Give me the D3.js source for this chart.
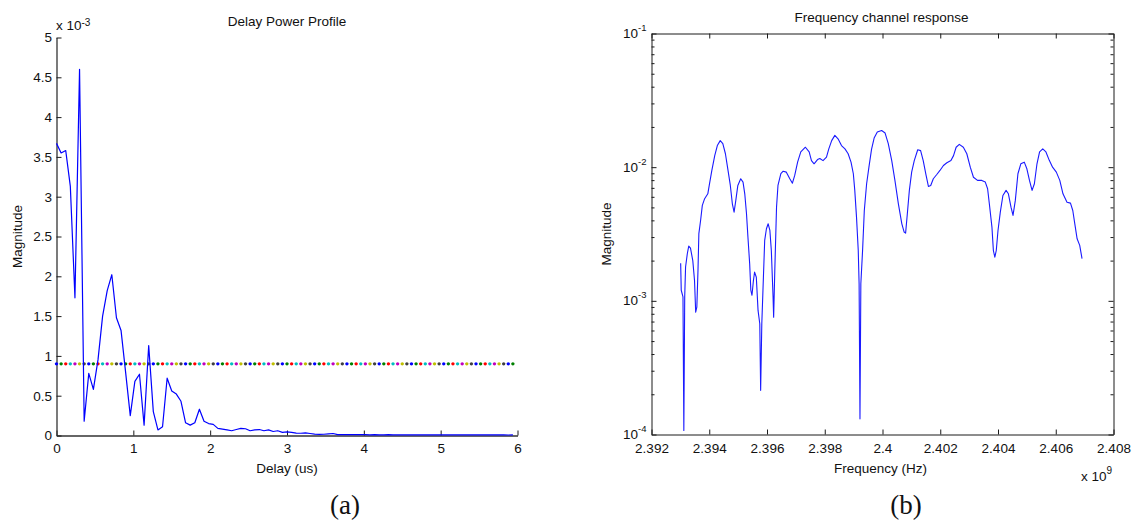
<!DOCTYPE html>
<html><head><meta charset="utf-8">
<script src="https://cdn.jsdelivr.net/npm/d3@7/dist/d3.min.js"></script>
<style>
body{margin:0;background:#fff;}
svg text{font-family:"Liberation Sans",Arial,Helvetica,sans-serif;fill:#111;}
</style></head><body>
<svg id="chart" width="1135" height="522"></svg>
<script>
// ---------- (a) Delay Power Profile ----------
const delays = [0,0.06,0.12,0.18,0.24,0.3,0.36,0.42,0.48,0.54,0.6,0.66,0.72,0.78,0.84,0.9,0.96,1.02,1.08,1.14,
  1.2,1.26,1.32,1.38,1.44,1.5,1.56,1.62,1.68,1.74,1.8,1.86,1.92,1.98,2.04,2.1,2.16,2.22,2.28,2.34,
  2.4,2.46,2.52,2.58,2.64,2.7,2.76,2.82,2.88,2.94,3,3.06,3.12,3.18,3.24,3.3,3.36,3.42,3.48,3.54,
  3.6,3.66,3.72,3.78,3.84,3.9,3.96,4.02,4.08,4.14,4.2,4.26,4.32,4.38,4.44,4.5,4.56,4.62,4.68,4.74,
  4.8,4.86,4.92,4.98,5.04,5.1,5.16,5.22,5.28,5.34,5.4,5.46,5.52,5.58,5.64,5.7,5.76,5.82,5.88,5.94];
// magnitude in units of 1e-3
const delayPower = [3.67,3.55,3.58,3.13,1.73,4.60,0.18,0.78,0.58,0.95,
  1.50,1.82,2.02,1.48,1.32,0.79,0.25,0.68,0.77,0.13,
  1.13,0.30,0.07,0.11,0.72,0.56,0.52,0.43,0.16,0.13,
  0.16,0.33,0.18,0.15,0.14,0.09,0.08,0.07,0.06,0.075,
  0.09,0.085,0.06,0.07,0.075,0.06,0.07,0.05,0.06,0.04,
  0.045,0.04,0.03,0.028,0.032,0.025,0.018,0.015,0.016,0.02,
  0.025,0.012,0.012,0.011,0.010,0.011,0.010,0.010,0.009,0.010,
  0.009,0.009,0.010,0.009,0.009,0.008,0.009,0.009,0.008,0.009,
  0.008,0.008,0.009,0.008,0.008,0.008,0.007,0.008,0.008,0.007,
  0.008,0.007,0.007,0.008,0.007,0.007,0.007,0.007,0.006,0.007];
const thresholdLevel = 0.9;
const dotColors = ["#0000ff","#008000","#ff0000","#00bfbf","#bf00bf","#bfbf00","#404040"];
const delayTicks = [0,1,2,3,4,5,6];
const powerTicks = [0,0.5,1,1.5,2,2.5,3,3.5,4,4.5,5];

// ---------- (b) Frequency channel response ----------
// frequency in units of 1e9 Hz
const freqGHz = [2.39301,2.39303,2.39309,2.39312,2.39315,2.39318,2.39324,2.39329,2.39335,2.39343,
  2.39349,2.39353,2.39357,2.39361,2.39364,2.39370,2.39376,2.39384,2.39395,2.39401,
  2.39409,2.39419,2.39428,2.39438,2.39447,2.39456,2.39465,2.39473,2.39480,2.39486,
  2.39492,2.39499,2.39509,2.39517,2.39523,2.39529,2.39534,2.39540,2.39544,2.39548,
  2.39553,2.39557,2.39563,2.39569,2.39575,2.39578,2.39582,2.39586,2.39592,2.39598,
  2.39604,2.39610,2.39615,2.39621,2.39623,2.39627,2.39633,2.39638,2.39648,2.39656,
  2.39667,2.39679,2.39688,2.39696,2.39706,2.39717,2.39733,2.39746,2.39754,2.39763,
  2.39775,2.39783,2.39794,2.39806,2.39814,2.39824,2.39835,2.39846,2.39858,2.39870,
  2.39881,2.39891,2.39899,2.39904,2.39910,2.39916,2.39919,2.39922,2.39925,2.39931,
  2.39937,2.39945,2.39953,2.39962,2.39971,2.39982,2.39997,2.40009,2.40020,2.40032,
  2.40043,2.40055,2.40067,2.40075,2.40080,2.40086,2.40093,2.40101,2.40110,2.40122,
  2.40132,2.40141,2.40151,2.40159,2.40167,2.40176,2.40188,2.40199,2.40211,2.40223,
  2.40237,2.40246,2.40255,2.40266,2.40280,2.40292,2.40304,2.40315,2.40329,2.40344,
  2.40356,2.40364,2.40370,2.40379,2.40384,2.40389,2.40394,2.40400,2.40408,2.40417,
  2.40428,2.40436,2.40445,2.40452,2.40460,2.40469,2.40479,2.40491,2.40500,2.40509,
  2.40518,2.40526,2.40535,2.40544,2.40555,2.40566,2.40578,2.40589,2.40602,2.40614,
  2.40625,2.40639,2.40651,2.40659,2.40666,2.40674,2.40683,2.40691];
const freqMag = [1.91e-3,1.20e-3,1.07e-3,1.07e-4,1.07e-3,1.79e-3,2.25e-3,2.57e-3,2.48e-3,2.00e-3,
  1.42e-3,8.23e-4,8.97e-4,1.69e-3,3.18e-3,3.99e-3,5.18e-3,5.81e-3,6.32e-3,7.52e-3,
  9.45e-3,1.22e-2,1.45e-2,1.58e-2,1.50e-2,1.26e-2,9.45e-3,7.30e-3,5.32e-3,4.61e-3,
  5.64e-3,7.30e-3,8.19e-3,7.73e-3,6.32e-3,4.48e-3,2.99e-3,1.89e-3,1.20e-3,1.10e-3,
  1.42e-3,1.64e-3,1.50e-3,8.48e-4,6.74e-4,2.14e-4,6.74e-4,1.20e-3,2.83e-3,3.46e-3,
  3.77e-3,3.36e-3,2.38e-3,1.07e-3,7.55e-4,1.69e-3,5.02e-3,7.30e-3,8.93e-3,9.33e-3,
  9.18e-3,8.19e-3,7.59e-3,8.67e-3,1.09e-2,1.30e-2,1.41e-2,1.30e-2,1.12e-2,1.06e-2,
  1.14e-2,1.16e-2,1.12e-2,1.19e-2,1.37e-2,1.58e-2,1.73e-2,1.63e-2,1.45e-2,1.37e-2,
  1.26e-2,1.09e-2,8.93e-3,6.70e-3,4.23e-3,2.38e-3,1.34e-3,1.31e-4,1.34e-3,2.38e-3,
  4.74e-3,7.52e-3,1.00e-2,1.36e-2,1.65e-2,1.83e-2,1.88e-2,1.80e-2,1.50e-2,1.12e-2,
  7.96e-3,5.32e-3,3.77e-3,3.27e-3,3.21e-3,4.48e-3,6.70e-3,9.18e-3,1.12e-2,1.35e-2,
  1.33e-2,1.12e-2,8.67e-3,7.18e-3,7.30e-3,8.19e-3,8.81e-3,9.45e-3,1.03e-2,1.08e-2,
  1.12e-2,1.22e-2,1.41e-2,1.48e-2,1.41e-2,1.26e-2,1.00e-2,8.41e-3,7.96e-3,7.96e-3,
  7.73e-3,6.90e-3,5.32e-3,3.56e-3,2.38e-3,2.12e-3,2.38e-3,3.36e-3,4.61e-3,6.14e-3,
  6.70e-3,6.32e-3,5.02e-3,4.36e-3,5.64e-3,8.93e-3,1.06e-2,1.09e-2,9.73e-3,7.96e-3,
  6.70e-3,7.52e-3,1.06e-2,1.30e-2,1.37e-2,1.30e-2,1.12e-2,1.00e-2,9.18e-3,7.96e-3,
  6.32e-3,5.47e-3,5.38e-3,4.74e-3,3.77e-3,2.91e-3,2.60e-3,2.07e-3];
const freqTicks = [2.392,2.394,2.396,2.398,2.4,2.402,2.404,2.406,2.408];
const magDecades = [1e-4,1e-3,1e-2,1e-1];

const svg = d3.select("#chart");
const FS = "13.5px";
const axisColor = "#1a1a1a";

function styleAxis(g){
  g.selectAll("path.domain").attr("stroke",axisColor).attr("stroke-width",1);
  g.selectAll(".tick line").attr("stroke",axisColor);
  g.selectAll(".tick text").attr("font-size",FS).attr("fill","#111")
   .attr("font-family","'Liberation Sans',Arial,sans-serif");
}

// ===== Panel (a) =====
const xL = d3.scaleLinear().domain([0,6]).range([56.5,517.5]);
const yL = d3.scaleLinear().domain([0,5]).range([435.5,37.5]);
const gA = svg.append("g");

gA.append("g").attr("transform",`translate(0,${yL(0)})`)
  .call(d3.axisBottom(xL).tickValues(delayTicks).tickFormat(d3.format("~g"))
    .tickSizeInner(-5).tickSizeOuter(0).tickPadding(7.5))
  .call(styleAxis);
gA.append("g").attr("transform",`translate(${xL(0)},0)`)
  .call(d3.axisLeft(yL).tickValues(powerTicks).tickFormat(d3.format("~g"))
    .tickSizeInner(-5).tickSizeOuter(0).tickPadding(4.5))
  .call(styleAxis);
gA.selectAll("path.domain").attr("stroke","#333").attr("stroke-width",1.3);

// threshold dots
gA.append("g").selectAll("circle").data(delays).join("circle")
  .attr("cx",d=>xL(d)).attr("cy",yL(thresholdLevel)).attr("r",1.7)
  .attr("fill",(d,i)=>dotColors[i%dotColors.length]);

gA.append("path").datum(delays.map((d,i)=>[d,delayPower[i]]))
  .attr("fill","none").attr("stroke","#0000ff").attr("stroke-width",1.2)
  .attr("stroke-linejoin","round")
  .attr("d",d3.line().x(d=>xL(d[0])).y(d=>yL(d[1])));

gA.append("text").attr("x",(xL(0)+xL(6))/2).attr("y",25.5).attr("text-anchor","middle")
  .attr("font-size",FS).text("Delay Power Profile");
gA.append("text").attr("x",(xL(0)+xL(6))/2).attr("y",472.5).attr("text-anchor","middle")
  .attr("font-size",FS).text("Delay (us)");
gA.append("text").attr("transform",`translate(21.5,${(yL(0)+yL(5))/2}) rotate(-90)`)
  .attr("text-anchor","middle").attr("font-size",FS).text("Magnitude");
const expA = gA.append("text").attr("x",56).attr("y",29.5).attr("font-size",FS);
expA.append("tspan").text("x 10");
expA.append("tspan").attr("font-size","10px").attr("dy",-4).text("-3");
gA.append("text").attr("x",345).attr("y",514).attr("text-anchor","middle")
  .attr("font-size","27px")
  .style("font-family","'Liberation Serif','Times New Roman',serif").text("(a)");

// ===== Panel (b) =====
const xR = d3.scaleLinear().domain([2.392,2.408]).range([651.5,1113.5]);
const yR = d3.scaleLog().domain([1e-4,1e-1]).range([434.5,33.5]);
const gB = svg.append("g");

gB.append("g").attr("transform",`translate(0,${yR(1e-4)})`)
  .call(d3.axisBottom(xR).tickValues(freqTicks).tickFormat(d3.format("~g"))
    .tickSizeInner(-5).tickSizeOuter(0).tickPadding(9))
  .call(styleAxis);
gB.append("g").attr("transform",`translate(0,${yR(1e-1)})`)
  .call(d3.axisTop(xR).tickValues(freqTicks).tickFormat("")
    .tickSizeInner(-5).tickSizeOuter(0))
  .call(styleAxis);

const allLogTicks = yR.ticks();
const isDecade = v => magDecades.some(m=>Math.abs(m-v)/m<1e-6);
gB.append("g").attr("transform",`translate(${xR(2.392)},0)`)
  .call(d3.axisLeft(yR).tickValues(allLogTicks).tickFormat("").tickSizeInner(-3).tickSizeOuter(0))
  .call(styleAxis)
  .selectAll(".tick line").attr("x2",d=>isDecade(d)?5:3);
gB.append("g").attr("transform",`translate(${xR(2.408)},0)`)
  .call(d3.axisRight(yR).tickValues(allLogTicks).tickFormat("").tickSizeInner(-3).tickSizeOuter(0))
  .call(styleAxis)
  .selectAll(".tick line").attr("x2",d=>isDecade(d)?-5:-3);

// decade labels
magDecades.forEach(m=>{
  const t = gB.append("text").attr("x",xR(2.392)-5).attr("y",yR(m)+4.5)
    .attr("text-anchor","end").attr("font-size",FS);
  t.append("tspan").text("10");
  t.append("tspan").attr("font-size","9.5px").attr("dy",-7).text(String(Math.round(Math.log10(m))));
});

gB.append("path").datum(freqGHz.map((f,i)=>[f,freqMag[i]]))
  .attr("fill","none").attr("stroke","#1a1aff").attr("stroke-width",1.1)
  .attr("stroke-linejoin","round")
  .attr("d",d3.line().x(d=>xR(d[0])).y(d=>yR(d[1])));

gB.append("text").attr("x",(xR(2.392)+xR(2.408))/2-1).attr("y",22).attr("text-anchor","middle")
  .attr("font-size",FS).text("Frequency channel response");
gB.append("text").attr("x",(xR(2.392)+xR(2.408))/2-2).attr("y",472.5).attr("text-anchor","middle")
  .attr("font-size",FS).text("Frequency (Hz)");
gB.append("text").attr("transform",`translate(611,${(yR(1e-4)+yR(1e-1))/2}) rotate(-90)`)
  .attr("text-anchor","middle").attr("font-size",FS).text("Magnitude");
const expB = gB.append("text").attr("x",1081).attr("y",480.5).attr("font-size",FS);
expB.append("tspan").text("x 10");
expB.append("tspan").attr("font-size","10px").attr("dy",-7).text("9");
gB.append("text").attr("x",906).attr("y",514).attr("text-anchor","middle")
  .attr("font-size","27px")
  .style("font-family","'Liberation Serif','Times New Roman',serif").text("(b)");
</script>
</body></html>
